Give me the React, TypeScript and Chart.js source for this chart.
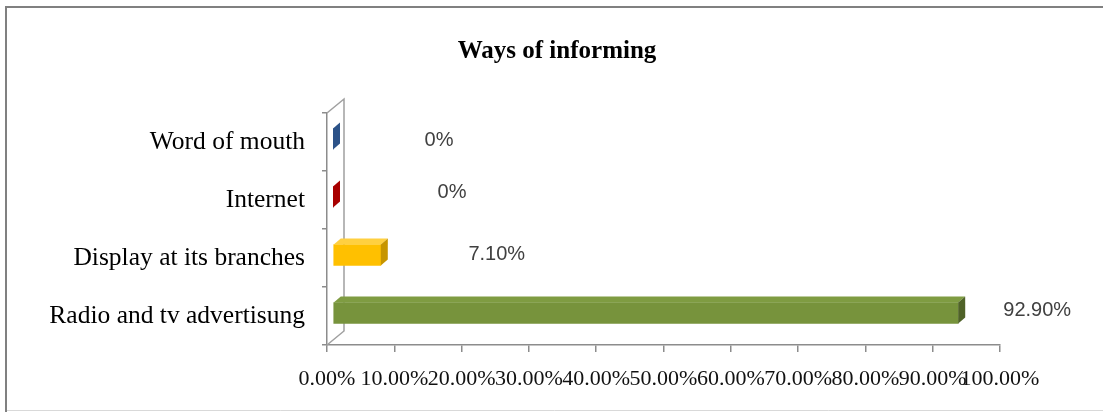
import React, { useEffect, useRef } from "react";
import { Chart, registerables } from "chart.js";

Chart.register(...registerables);

// Survey answers: how customers learned about the bank
const categories = [
  "Word of mouth",
  "Internet",
  "Display at its branches",
  "Radio and tv advertisung",
];
const shares = [0, 0, 7.1, 92.9];
const valueLabels = ["0%", "0%", "7.10%", "92.90%"];
const xTickMin = 0;
const xTickMax = 100;
const xTickStep = 10;

// Face colours of each 3D bar: front, top, side
const frontColors = ["#3A66A0", "#C00000", "#FFC000", "#77933C"];
const topColors = ["#4F7AB3", "#D42020", "#FFD040", "#7F9C42"];
const sideColors = ["#2C5288", "#A80000", "#C79500", "#4F6228"];

// Hand-placed data label offsets (pixels from the bar end / category centre)
const labelDx = [112, 125, 122, 85];
const labelDy = [-2, -8, -4, -6];

const DEPTH = { dx: 7, dy: -6 };
const SHIFT = { x: 6, y: -3 };
const WALL = { dx: 17, dy: -14 };

const threeD = {
  id: "threeD",
  beforeDraw(chart: any) {
    const { ctx, width, height } = chart;
    ctx.save();
    ctx.fillStyle = "#ffffff";
    ctx.fillRect(0, 0, width, height);
    // outer frame
    ctx.strokeStyle = "#d9d9d9";
    ctx.lineWidth = 1;
    ctx.beginPath();
    ctx.moveTo(6, 410.5);
    ctx.lineTo(width, 410.5);
    ctx.stroke();
    ctx.strokeStyle = "#808080";
    ctx.lineWidth = 2;
    ctx.beginPath();
    ctx.moveTo(6, height);
    ctx.lineTo(6, 7);
    ctx.lineTo(width, 7);
    ctx.stroke();
    // title
    ctx.fillStyle = "#000000";
    ctx.font = "bold 25px 'Liberation Serif'";
    ctx.textAlign = "center";
    ctx.textBaseline = "alphabetic";
    ctx.fillText("Ways of informing", 557, 58);
    ctx.restore();
  },
  beforeDatasetsDraw(chart: any) {
    const { ctx, chartArea } = chart;
    const { left, top, bottom } = chartArea;
    ctx.save();
    ctx.strokeStyle = "#a0a0a0";
    ctx.lineWidth = 1.5;
    ctx.beginPath();
    ctx.moveTo(left, top);
    ctx.lineTo(left + WALL.dx, top + WALL.dy);
    ctx.lineTo(left + WALL.dx, bottom + WALL.dy);
    ctx.lineTo(left, bottom);
    ctx.stroke();
    ctx.restore();
    ctx.save();
    ctx.translate(SHIFT.x, SHIFT.y);
  },
  afterDatasetsDraw(chart: any) {
    const { ctx } = chart;
    const meta = chart.getDatasetMeta(0);
    meta.data.forEach((bar: any, i: number) => {
      const { x, y, base, height } = bar.getProps(["x", "y", "base", "height"], true);
      const t = y - height / 2;
      const b = y + height / 2;
      ctx.fillStyle = topColors[i];
      ctx.beginPath();
      ctx.moveTo(base, t);
      ctx.lineTo(x, t);
      ctx.lineTo(x + DEPTH.dx, t + DEPTH.dy);
      ctx.lineTo(base + DEPTH.dx, t + DEPTH.dy);
      ctx.closePath();
      ctx.fill();
      ctx.fillStyle = sideColors[i];
      ctx.beginPath();
      ctx.moveTo(x, t);
      ctx.lineTo(x + DEPTH.dx, t + DEPTH.dy);
      ctx.lineTo(x + DEPTH.dx, b + DEPTH.dy);
      ctx.lineTo(x, b);
      ctx.closePath();
      ctx.fill();
    });
    ctx.restore();
  },
  afterDraw(chart: any) {
    const { ctx, scales } = chart;
    ctx.save();
    ctx.fillStyle = "#404040";
    ctx.font = "20px 'Liberation Sans'";
    ctx.textAlign = "center";
    ctx.textBaseline = "middle";
    shares.forEach((v, i) => {
      const px = scales.x.getPixelForValue(v) + labelDx[i];
      const py = scales.y.getPixelForValue(i) + labelDy[i];
      ctx.fillText(valueLabels[i], px, py);
    });
    ctx.restore();
  },
};

export default function App() {
  const canvasRef = useRef<HTMLCanvasElement | null>(null);

  useEffect(() => {
    if (!canvasRef.current) return;
    const chart = new Chart(canvasRef.current, {
      type: "bar",
      data: {
        labels: categories,
        datasets: [
          {
            data: shares,
            backgroundColor: frontColors,
            borderWidth: 0,
            barThickness: 21,
          },
        ],
      },
      options: {
        indexAxis: "y",
        responsive: false,
        animation: false,
        layout: { padding: { top: 113, right: 103, bottom: 0, left: 0 } },
        plugins: {
          legend: { display: false },
          tooltip: { enabled: false },
          title: { display: false },
        },
        scales: {
          x: {
            type: "linear",
            min: xTickMin,
            max: xTickMax,
            afterFit(scale: any) {
              scale.height = 67;
            },
            border: { color: "#8c8c8c", width: 1.5 },
            grid: { drawOnChartArea: false, tickLength: 7, color: "#8c8c8c", lineWidth: 1.5 },
            ticks: {
              stepSize: xTickStep,
              autoSkip: false,
              maxRotation: 0,
              minRotation: 0,
              padding: 14,
              color: "#111111",
              font: { family: "'Liberation Serif'", size: 22 },
              callback: (v: any) => Number(v).toFixed(2) + "%",
            },
          },
          y: {
            type: "category",
            afterFit(scale: any) {
              scale.width = 327;
            },
            border: { color: "#8c8c8c", width: 1.5 },
            grid: { drawOnChartArea: false, tickLength: 5, color: "#8c8c8c", lineWidth: 1.5, offset: true },
            ticks: {
              padding: 17,
              color: "#000000",
              font: { family: "'Liberation Serif'", size: 25.5 },
            },
          },
        },
      },
      plugins: [threeD],
    });
    return () => chart.destroy();
  }, []);

  return (
    <div style={{ position: "absolute", left: 0, top: 0, width: 1103, height: 412 }}>
      <canvas ref={canvasRef} width={1103} height={412} />
    </div>
  );
}
